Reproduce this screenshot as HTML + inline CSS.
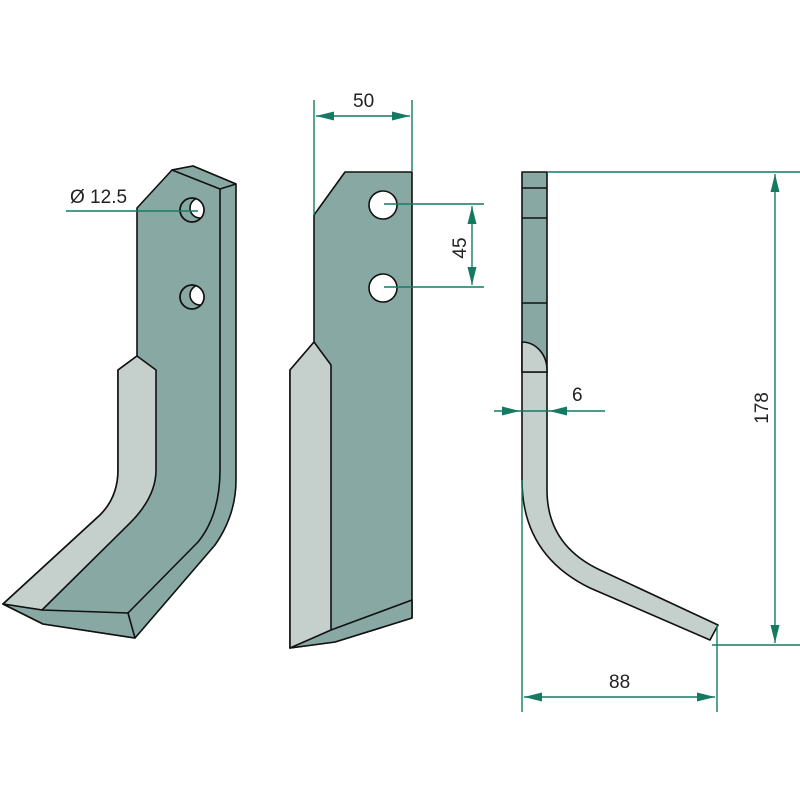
<!DOCTYPE html>
<html><head><style>html,body{margin:0;padding:0;background:#fff;width:800px;height:800px;overflow:hidden}</style></head>
<body>
<svg width="800" height="800" viewBox="0 0 800 800" xmlns="http://www.w3.org/2000/svg">
<defs>
<marker id="b" viewBox="0 0 20 10" refX="20" refY="5" markerWidth="18" markerHeight="9" orient="auto-start-reverse" markerUnits="userSpaceOnUse"><path d="M0,0 L20,5 L0,10 z" fill="#157a62"/></marker>
<clipPath id="h1"><circle cx="192" cy="210" r="12"/></clipPath>
<clipPath id="h2"><circle cx="192" cy="297" r="12"/></clipPath>
</defs>
<g stroke="#111" stroke-width="1.6" stroke-linejoin="round">
<path d="M236,184 L236,480 Q236,515 215,545 L135,638 L43,624 L3,604 L100,515 Q118,497 118,470 L118,370 L137,356 L137,208 L172,170 L193,166 Z" fill="#88a8a4"/>
<path d="M172,170 L193,166 L236,184 L220,189 Z" fill="#88a8a4"/>
<path d="M220,189 L220,470 Q220,515 198,542 L128,613" fill="none"/>
<path d="M137,356 L118,370 L118,470 Q118,497 100,515 L3,604 L42,610 L130,523 Q156,497 156,470 L156,370 Z" fill="#c5d0cc"/>
<path d="M3,604 L43,624 L135,638 L128,613 L42,610 Z" fill="#88a8a4"/>
<circle cx="192" cy="210" r="12" fill="#88a8a4"/>
<circle cx="200" cy="208" r="10" fill="#fff" stroke="#111" clip-path="url(#h1)"/>
<circle cx="192" cy="210" r="12" fill="none"/>
<circle cx="192" cy="297" r="12" fill="#88a8a4"/>
<circle cx="200" cy="295" r="10" fill="#fff" stroke="#111" clip-path="url(#h2)"/>
<circle cx="192" cy="297" r="12" fill="none"/>
<path d="M314,215 L345,172 L412,172 L412,618 L335,642 L290,648 L290,370 L314,342 Z" fill="#88a8a4"/>
<path d="M314,342 L331,365 L331,640 L290,648 L290,370 Z" fill="#c5d0cc"/>
<path d="M331,630 L412,600 L412,618 L335,642 L290,648 Z" fill="#88a8a4"/>
<circle cx="383" cy="205" r="14" fill="#fff"/>
<circle cx="383" cy="288" r="14" fill="#fff"/>
<rect x="522" y="172" width="25" height="200" fill="#88a8a4"/>
<path d="M522,372 L547,372 L547,490 Q547,545 600,570 L718,625 L710,640 L590,588 Q522,555 522,480 Z" fill="#c5d0cc"/>
<path d="M522,342 A25,28 0 0 1 547,370 L547,372 L522,372 Z" fill="#c5d0cc"/>
<path d="M522,188 L547,188 M522,218 L547,218 M522,303 L547,303" fill="none"/>
</g>
<g stroke="#157a62" stroke-width="1.4" fill="none">
<line x1="66" y1="211" x2="198" y2="211"/>
<line x1="314" y1="100" x2="314" y2="215"/>
<line x1="412" y1="100" x2="412" y2="172"/>
<line x1="316" y1="116" x2="410" y2="116" marker-start="url(#b)" marker-end="url(#b)"/>
<line x1="384" y1="204" x2="484" y2="204"/>
<line x1="384" y1="287" x2="484" y2="287"/>
<line x1="472" y1="206" x2="472" y2="285" marker-start="url(#b)" marker-end="url(#b)"/>
<line x1="547" y1="172" x2="800" y2="172"/>
<line x1="712" y1="645" x2="800" y2="645"/>
<line x1="775" y1="174" x2="775" y2="643" marker-start="url(#b)" marker-end="url(#b)"/>
<line x1="494" y1="411" x2="520" y2="411" marker-end="url(#b)"/>
<line x1="605" y1="411" x2="549" y2="411" marker-end="url(#b)"/>
<line x1="520" y1="411" x2="549" y2="411"/>
<line x1="522" y1="480" x2="522" y2="712"/>
<line x1="717" y1="625" x2="717" y2="712"/>
<line x1="524" y1="697" x2="715" y2="697" marker-start="url(#b)" marker-end="url(#b)"/>
</g>
<g font-family="Liberation Sans, sans-serif" font-size="19" fill="#222">
<text x="70" y="203">Ø 12.5</text>
<text x="353" y="107">50</text>
<text x="572" y="401">6</text>
<text x="609" y="688">88</text>
<text transform="translate(466,248) rotate(-90)" text-anchor="middle">45</text>
<text transform="translate(768,408) rotate(-90)" text-anchor="middle">178</text>
</g>
</svg>
</body></html>
